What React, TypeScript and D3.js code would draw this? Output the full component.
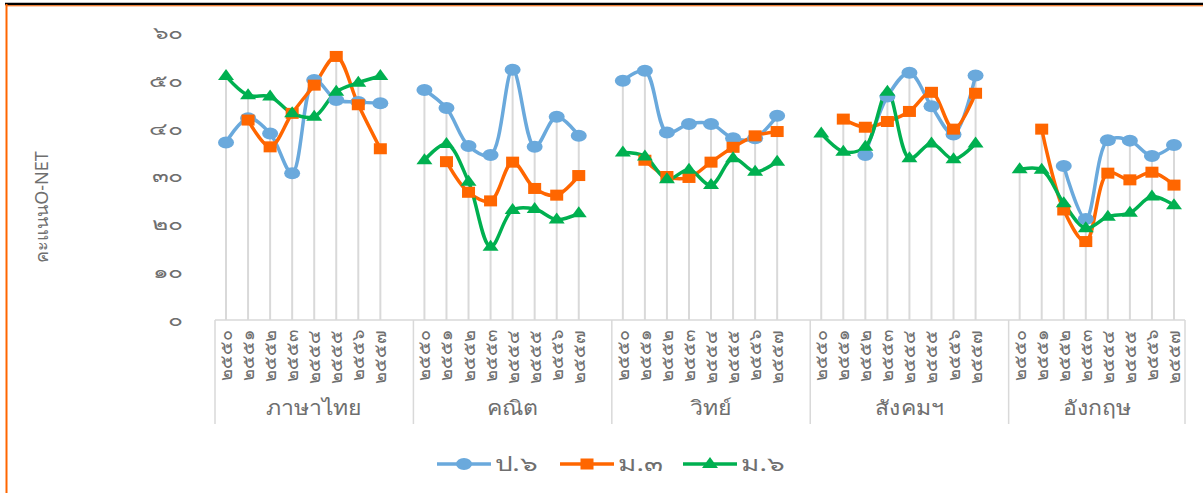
import React from "react";
import * as d3 from "d3";

const subjects = ["ภาษาไทย", "คณิต", "วิทย์", "สังคมฯ", "อังกฤษ"];
const years = ["๒๕๕๐", "๒๕๕๑", "๒๕๕๒", "๒๕๕๓", "๒๕๕๔", "๒๕๕๕", "๒๕๕๖", "๒๕๕๗"];
const yTicks = [0, 10, 20, 30, 40, 50, 60];
const thaiDigits = ["๐", "๑", "๒", "๓", "๔", "๕", "๖", "๗", "๘", "๙"];

const p6: (number | null)[] = [
  37.1, 42.2, 39.0, 30.7, 50.2, 46.0, 45.6, 45.3,
  48.1, 44.3, 36.4, 34.5, 52.3, 36.2, 42.5, 38.5,
  50.0, 52.1, 39.2, 41.0, 41.0, 38.0, 38.0, 42.7,
  null, null, 34.5, 46.7, 51.7, 44.7, 38.8, 51.1,
  null, null, 32.2, 21.1, 37.6, 37.5, 34.3, 36.6,
];
const m3: (number | null)[] = [
  null, 41.8, 36.2, 43.2, 49.1, 55.1, 45.0, 35.8,
  null, 33.1, 26.7, 24.9, 33.0, 27.5, 26.1, 30.2,
  null, 33.4, 30.0, 29.8, 33.0, 36.1, 38.5, 39.4,
  null, 42.0, 40.3, 41.5, 43.6, 47.6, 39.9, 47.4,
  null, 39.9, 23.0, 16.4, 30.7, 29.3, 30.9, 28.2,
];
const m6: (number | null)[] = [
  51.0, 47.0, 46.7, 43.2, 42.5, 47.7, 49.6, 51.0,
  33.4, 36.8, 28.9, 15.3, 23.0, 23.2, 21.0, 22.3,
  35.0, 34.2, 29.4, 31.4, 28.2, 33.8, 31.0, 33.1,
  39.0, 35.2, 36.2, 47.7, 33.8, 36.9, 33.6, 36.9,
  31.5, 31.4, 24.4, 19.2, 21.6, 22.4, 25.8, 24.0,
];
const seriesNames = ["ป.๖", "ม.๓", "ม.๖"];

const toThai = (n: number) => String(n).split("").map((c) => thaiDigits[+c]).join("");

const W = 1203, H = 493;
const FONT = "'Noto Sans', 'DejaVu Sans', sans-serif";
const TXT = "#6f6f6f";
const GRID = "#d9d9d9";

const colors = ["#6aa9dc", "#ff6600", "#00b050"];

function Marker({ kind, x, y, color }: { kind: number; x: number; y: number; color: string }) {
  if (kind === 0) return <ellipse cx={x} cy={y} rx={8} ry={6} fill={color} />;
  if (kind === 1) return <rect x={x - 6.5} y={y - 5.5} width={13} height={11} fill={color} />;
  return <path d={`M${x},${y - 7}L${x + 8},${y + 4}L${x - 8},${y + 4}Z`} fill={color} />;
}

export default function App() {
  const nSlots = subjects.length * 9 - 1;
  const slotOf = (g: number, i: number) => g * 9 + i;
  const x = d3.scaleBand<number>().domain(d3.range(nSlots)).range([215, 1185]).paddingInner(0).paddingOuter(0);
  const cx = (s: number) => (x(s) as number) + x.bandwidth() / 2;
  const y = d3.scaleLinear().domain([0, 60]).range([320, 33]);
  const series = [p6, m3, m6];

  const line = d3
    .line<{ s: number; v: number | null }>()
    .defined((d) => d.v != null)
    .x((d) => cx(d.s))
    .y((d) => y(d.v as number))
    .curve(d3.curveCatmullRom.alpha(0.5));

  const groupEdges = subjects.map((_, g) => x(slotOf(g, 0)) as number);
  groupEdges.push(1185);

  return (
    <svg width={W} height={H} style={{ position: "absolute", left: 0, top: 0, background: "#fff" }} fontFamily={FONT}>
      <rect x={0} y={0} width={W} height={H} fill="#fff" />
      {/* frame */}
      <line x1={5} x2={W} y1={4} y2={4} stroke="#000" strokeWidth={2.5} />
      <line x1={6} x2={W} y1={5.8} y2={5.8} stroke="#ff6600" strokeWidth={1} />
      <line x1={6.5} x2={6.5} y1={4} y2={H} stroke="#ff6600" strokeWidth={2} />

      {/* y axis labels */}
      {yTicks.map((t) => (
        <text key={t} transform={`translate(183,${y(t)}) scale(1.45,1)`} dy="0.35em" textAnchor="end" fontSize={17} fill={TXT}>
          {toThai(t)}
        </text>
      ))}
      <text transform={`translate(48,207) rotate(-90)`} textAnchor="middle" fontSize={18} fill={TXT}>
        คะแนนO-NET
      </text>

      {/* drop lines */}
      {subjects.map((_, g) =>
        years.map((_, i) => {
          const idx = g * 8 + i;
          const vals = series.map((s) => s[idx]).filter((v) => v != null) as number[];
          if (!vals.length) return null;
          const top = d3.max(vals) as number;
          const xx = cx(slotOf(g, i));
          return <line key={`d${g}-${i}`} x1={xx} x2={xx} y1={y(top)} y2={y(0)} stroke={GRID} strokeWidth={2} />;
        })
      )}

      {/* axis */}
      <line x1={215} x2={1185} y1={y(0)} y2={y(0)} stroke={GRID} strokeWidth={1.5} />
      {groupEdges.map((e, k) => (
        <line key={`e${k}`} x1={e} x2={e} y1={y(0)} y2={424} stroke={GRID} strokeWidth={1.5} />
      ))}
      {subjects.map((sub, g) =>
        years.map((yr, i) => {
          const xx = cx(slotOf(g, i));
          return (
            <text key={`l${g}-${i}`} transform={`translate(${xx + 6},330) rotate(-90)`} textAnchor="end" fontSize={18} fill={TXT}>
              {yr}
            </text>
          );
        })
      )}
      {subjects.map((sub, g) => {
        const mid = (groupEdges[g] + (g < subjects.length - 1 ? groupEdges[g] + 9 * x.bandwidth() : 1185)) / 2;
        return (
          <text key={`s${g}`} transform={`translate(${mid},415) scale(1.15,1)`} textAnchor="middle" fontSize={20} fill={TXT}>
            {sub}
          </text>
        );
      })}

      {/* lines */}
      {series.map((s, k) =>
        subjects.map((_, g) => {
          const pts = years.map((_, i) => ({ s: slotOf(g, i), v: s[g * 8 + i] }));
          return (
            <path key={`p${k}-${g}`} d={line(pts) || ""} fill="none" stroke={colors[k]} strokeWidth={3.5} strokeLinejoin="round" />
          );
        })
      )}
      {series.map((s, k) =>
        subjects.map((_, g) =>
          years.map((_, i) => {
            const v = s[g * 8 + i];
            if (v == null) return null;
            return <Marker key={`m${k}-${g}-${i}`} kind={k} x={cx(slotOf(g, i))} y={y(v)} color={colors[k]} />;
          })
        )
      )}

      {/* legend */}
      {seriesNames.map((n, k) => {
        const x0 = [437, 560, 683][k];
        return (
          <g key={`lg${k}`}>
            <line x1={x0} x2={x0 + 54} y1={464} y2={464} stroke={colors[k]} strokeWidth={3.5} />
            <Marker kind={k} x={x0 + 27} y={464} color={colors[k]} />
            <text transform={`translate(${x0 + 58},464) scale(1.4,1)`} dy="0.35em" fontSize={20} fill={TXT}>
              {n}
            </text>
          </g>
        );
      })}
    </svg>
  );
}
